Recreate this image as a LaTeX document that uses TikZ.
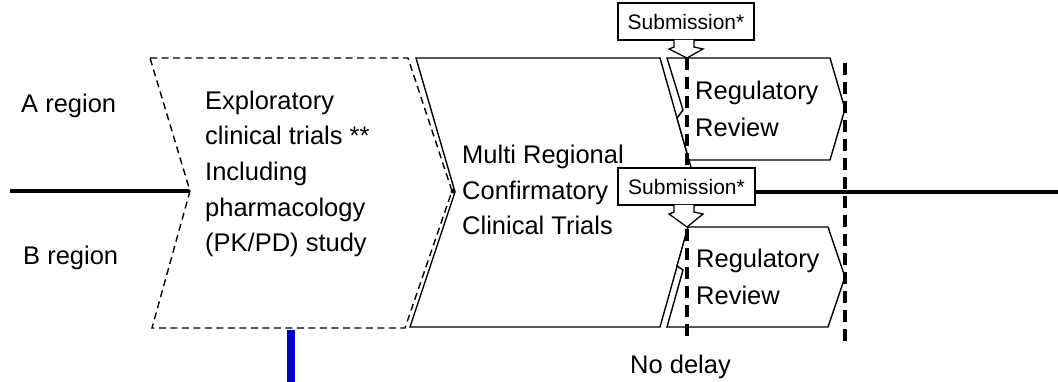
\documentclass[tikz,border=0pt]{standalone}
\usepackage{fontspec}
\setmainfont{Liberation Sans}
\definecolor{barblue}{RGB}{0,0,204}
\tikzset{
  lbl/.style={anchor=base west, inner sep=0pt, font=\fontsize{25.5}{30}\selectfont},
  subtxt/.style={inner sep=0pt, font=\fontsize{21}{24}\selectfont},
  dashshape/.style={draw=black, line width=1.4pt, dash pattern=on 7pt off 4.5pt, fill=white, line join=miter},
  solidshape/.style={draw=black, line width=1.4pt, fill=white, line join=miter},
  thickline/.style={line width=4pt},
  milestone/.style={line width=3.2pt, dash pattern=on 12pt off 7pt},
  subbox/.style={draw=black, line width=1.3pt, fill=white},
}
\begin{document}
\begin{tikzpicture}[x=1pt,y=-1pt]
\useasboundingbox (0,0) rectangle (1058,382);

% main time line (A/B split)
\coordinate (lstart) at (10,191);
\coordinate (lend) at (453,191);
\draw[thickline] (lstart) -- (lend);

% exploratory trials (dashed chevron)
\draw[dashshape] (150,58) -- (408,58) -- (452,191) -- (405,328) -- (152,328) -- (190,191) -- cycle;

% MRCT chevron
\draw[solidshape] (416,58) -- (660,58) -- (698,192) -- (660,327) -- (410,327) -- (455,192) -- cycle;
\fill (lend) circle (2.4pt);

% right time line
\coordinate (rstart) at (698,192);
\coordinate (rend) at (1058,192);
\draw[thickline] (rstart) -- (rend);

% regulatory review boxes
\draw[solidshape] (667,58) -- (830,58) -- (845,109) -- (830,160) -- (689,160) -- (677,118) -- (683,110) -- cycle;
\draw[solidshape] (688,227) -- (828,227) -- (845,277) -- (828,327) -- (667,327) -- (683,270) -- (677,266) -- cycle;

% milestone dashed lines
\coordinate (m1top) at (687,58);
\coordinate (m1bot) at (687,340);
\coordinate (m2top) at (845,63);
\coordinate (m2bot) at (845,347);
\draw[milestone] (m1top) -- (m1bot);
\draw[milestone] (m2top) -- (m2bot);

% submission callouts
\node[subbox, minimum width=136pt, minimum height=37pt, inner sep=0pt] (subA) at (686,21.5) {};
\node[subtxt] (subAt) at (subA.center) {Submission*};
\draw[line width=1.3pt, fill=white, line join=miter] (674,40) -- (674,47) -- (669,49) -- (m1top) -- (703,49) -- (694,47) -- (694,40);

\node[subbox, minimum width=137pt, minimum height=37pt, inner sep=0pt] (subB) at (686.5,186.5) {};
\node[subtxt] (subBt) at (subB.center) {Submission*};
\draw[line width=1.3pt, fill=white, line join=miter] (674,205) -- (674,212) -- (669,214) -- (687,227) -- (703,214) -- (694,212) -- (694,205);

% labels
\node[lbl] (areg) at (21,113) {A region};
\node[lbl] (breg) at (23,265) {B region};

\node[lbl] (ex1) at (205,109.5) {Exploratory};
\node[lbl] (ex2) at (205,145) {clinical trials **};
\node[lbl] (ex3) at (205,181) {Including};
\node[lbl] (ex4) at (205,216.5) {pharmacology};
\node[lbl] (ex5) at (205,252) {(PK/PD) study};

\node[lbl] (mr1) at (462,164) {Multi Regional};
\node[lbl] (mr2) at (462,199.5) {Confirmatory};
\node[lbl] (mr3) at (462,235) {Clinical Trials};

\node[lbl] (ra1) at (695,100) {Regulatory};
\node[lbl] (ra2) at (695,137) {Review};
\node[lbl] (rb1) at (696,268) {Regulatory};
\node[lbl] (rb2) at (696,305) {Review};

\node[lbl] (nodelay) at (630,373) {No delay};

% blue bar
\fill[barblue] (287,330) rectangle (295,382);
\end{tikzpicture}
\end{document}
